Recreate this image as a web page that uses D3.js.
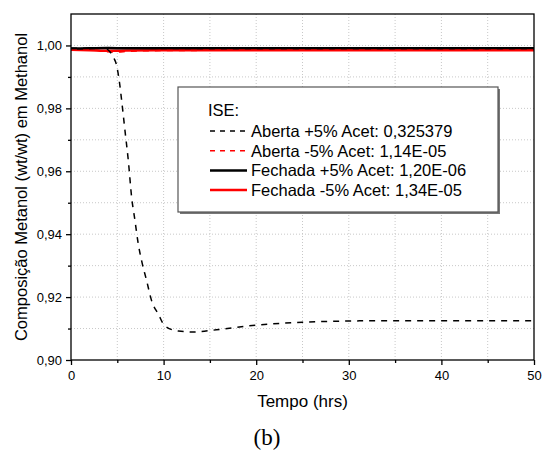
<!DOCTYPE html>
<html>
<head>
<meta charset="utf-8">
<script src="https://cdn.jsdelivr.net/npm/d3@7"></script>
<style>
  body { margin: 0; background: #fff; }
  svg { font-family: "Liberation Sans", Arial, sans-serif; }
</style>
</head>
<body>
<div class="chart"></div>
<script>
var svgWidth = 546;
var svgHeight = 450;
var margin = { top: 14, right: 12, bottom: 90, left: 71 };
var width = svgWidth - margin.left - margin.right;
var height = svgHeight - margin.top - margin.bottom;

// series (time in hrs, composition wt/wt)
var abertaPlusT = [0, 2, 3, 3.8, 4.2, 4.6, 4.93, 5.2, 5.47, 5.83, 6.19, 6.55, 6.91, 7.27, 7.63, 8.17, 8.71, 9.43, 10.15, 11.6, 13.2, 15.7, 20, 25, 30, 35, 40, 45, 50];
var abertaPlusY = [0.9991, 0.9991, 0.9991, 0.9989, 0.9980, 0.9962, 0.9936, 0.9890, 0.9825, 0.9729, 0.9634, 0.9517, 0.9443, 0.9368, 0.9315, 0.9252, 0.9188, 0.9146, 0.9108, 0.9092, 0.9089, 0.9096, 0.9111, 0.9120, 0.9124, 0.9125, 0.9125, 0.9125, 0.9125];
var abertaMinusT = [0, 2, 3, 4, 5, 6, 8, 12, 20, 30, 50];
var abertaMinusY = [0.9985, 0.9985, 0.9984, 0.9980, 0.9979, 0.9981, 0.9983, 0.9984, 0.9985, 0.9985, 0.9985];
var fechadaPlusT = [0, 2, 4, 6, 10, 20, 30, 50];
var fechadaPlusY = [0.9990, 0.9991, 0.9992, 0.9991, 0.9991, 0.9991, 0.9991, 0.9991];
var fechadaMinusT = [0, 2, 4, 6, 10, 20, 30, 50];
var fechadaMinusY = [0.9986, 0.9985, 0.9983, 0.9984, 0.9985, 0.9985, 0.9985, 0.9985];

var legendLabels = ["Aberta +5% Acet: 0,325379", "Aberta -5% Acet: 1,14E-05", "Fechada +5% Acet: 1,20E-06", "Fechada -5% Acet: 1,34E-05"];
var xTicks = [0, 10, 20, 30, 40, 50];
var yTicks = [0.90, 0.92, 0.94, 0.96, 0.98, 1.00];

var series = [
  { t: abertaPlusT, y: abertaPlusY, color: "#000", dash: "6,6", w: 1.5 },
  { t: abertaMinusT, y: abertaMinusY, color: "#ff0000", dash: "6,6", w: 1.5 },
  { t: fechadaPlusT, y: fechadaPlusY, color: "#000", dash: null, w: 2.5 },
  { t: fechadaMinusT, y: fechadaMinusY, color: "#ff0000", dash: null, w: 2.5 }
];

var svg = d3.select(".chart").append("svg")
  .attr("width", svgWidth).attr("height", svgHeight);
var chart = svg.append("g")
  .attr("transform", "translate(" + margin.left + "," + margin.top + ")");

var x = d3.scaleLinear().domain([0, 50]).range([0, width]);
var y = d3.scaleLinear().domain([0.90, 1.01]).range([height, 0]);

var fmt = function(d) { return d3.format(".2f")(d).replace(".", ","); };

// grid (major + minor)
var gx = d3.range(5, 50, 5);
var gy = d3.range(0.91, 1.005, 0.01);
chart.selectAll(".gx").data(gx).enter().append("line")
  .attr("x1", d => x(d)).attr("x2", d => x(d)).attr("y1", 0).attr("y2", height)
  .attr("stroke", "#c8c8c8").attr("stroke-dasharray", "1,2");
chart.selectAll(".gy").data(gy).enter().append("line")
  .attr("y1", d => y(d)).attr("y2", d => y(d)).attr("x1", 0).attr("x2", width)
  .attr("stroke", "#c8c8c8").attr("stroke-dasharray", "1,2");

// curves
var line = d3.line().x(d => x(d[0])).y(d => y(d[1])).curve(d3.curveMonotoneX);
series.slice().reverse().forEach(function(s) {
  var pts = s.t.map((t, i) => [t, s.y[i]]);
  chart.append("path").datum(pts)
    .attr("d", line)
    .attr("fill", "none")
    .attr("stroke", s.color)
    .attr("stroke-width", s.w)
    .attr("stroke-dasharray", s.dash);
});

// frame
chart.append("rect").attr("width", width).attr("height", height)
  .attr("fill", "none").attr("stroke", "#000").attr("stroke-width", 1.3);

// axes
var bottomAxis = d3.axisBottom(x).tickValues(xTicks).tickSize(5).tickPadding(6).tickFormat(d3.format("d"));
var bottomMinor = d3.axisBottom(x).tickValues(d3.range(5, 50, 10)).tickSize(3).tickFormat("");
var leftAxis = d3.axisLeft(y).tickValues(yTicks).tickSize(5).tickPadding(4).tickFormat(fmt);
var leftMinor = d3.axisLeft(y).tickValues([0.91, 0.93, 0.95, 0.97, 0.99]).tickSize(3).tickFormat("");

[bottomAxis, bottomMinor].forEach(function(a) {
  chart.append("g").attr("transform", "translate(0," + height + ")").call(a)
    .call(g => g.select(".domain").remove());
});
[leftAxis, leftMinor].forEach(function(a) {
  chart.append("g").call(a).call(g => g.select(".domain").remove());
});
chart.selectAll(".tick line").attr("stroke", "#000").attr("stroke-width", 1.3);
chart.selectAll(".tick text").attr("font-size", 13).attr("fill", "#000")
  .attr("font-family", "'Liberation Sans', Arial, sans-serif");

// axis titles
svg.append("text")
  .attr("transform", "translate(" + (margin.left + width / 2) + "," + 407 + ")")
  .attr("text-anchor", "middle").attr("font-size", 17).text("Tempo (hrs)");
svg.append("text")
  .attr("transform", "translate(27," + (margin.top + height / 2) + ") rotate(-90)")
  .attr("text-anchor", "middle").attr("font-size", 16.5)
  .text("Composição Metanol (wt/wt) em Methanol");
svg.append("text")
  .attr("x", 267).attr("y", 445)
  .attr("text-anchor", "middle").attr("font-size", 23)
  .attr("font-family", "'Liberation Serif', 'Times New Roman', serif")
  .text("(b)");

// legend
var lg = svg.append("g").attr("transform", "translate(178,87)");
lg.append("rect").attr("x", 2).attr("y", 2).attr("width", 320).attr("height", 125)
  .attr("fill", "#777");
lg.append("rect").attr("width", 320).attr("height", 125)
  .attr("fill", "#fff").attr("stroke", "#555").attr("stroke-width", 1.2);
lg.append("text").attr("x", 30).attr("y", 29).attr("font-size", 16.5).text("ISE:");
legendLabels.forEach(function(lbl, i) {
  var s = series[i];
  var yy = 44 + i * 19.7;
  lg.append("line").attr("x1", 32).attr("x2", 69).attr("y1", yy).attr("y2", yy)
    .attr("stroke", s.color).attr("stroke-width", s.w)
    .attr("stroke-dasharray", s.dash ? "5,5" : null);
  lg.append("text").attr("x", 73).attr("y", yy + 6).attr("font-size", 16.5).text(lbl);
});
</script>
</body>
</html>
